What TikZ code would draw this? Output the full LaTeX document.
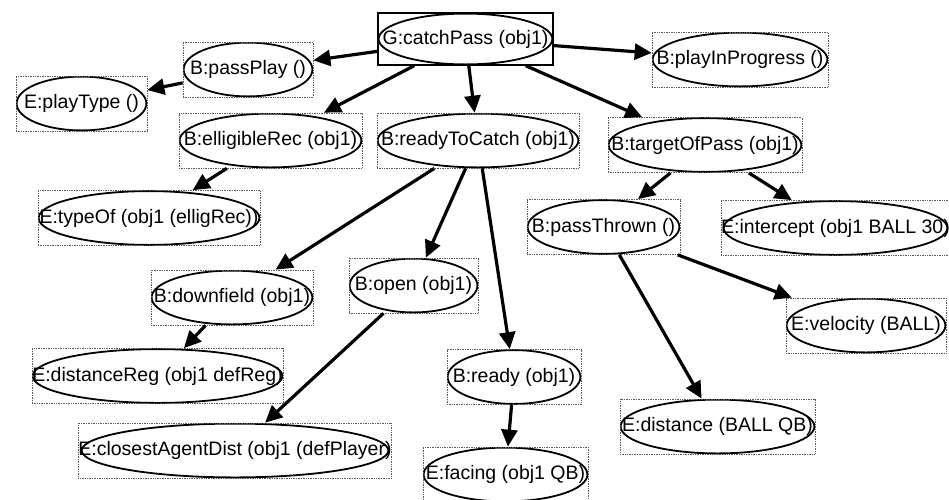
\documentclass[tikz,border=0pt]{standalone}
\usepackage{fontspec}
\newfontfamily\nodefont{Liberation Sans}
\usepackage{tikz}
\usetikzlibrary{arrows.meta}

\begin{document}
\begin{tikzpicture}[
		x=1pt,y=-1pt,
		node text/.style={font=\nodefont\fontsize{19.5}{22}\selectfont,inner sep=0pt,minimum height=55pt},
		behaviour/.style={node text,draw=black!65,densely dotted,line width=0.7pt,minimum width=#1,
			path picture={\draw[solid,black,line width=1.8pt] (path picture bounding box.center)
				ellipse [x radius=#1/2-0.6pt,y radius=27.5pt-0.6pt];}},
		goal/.style={node text,draw=black,line width=1.3pt,minimum width=#1,minimum height=52pt,
			path picture={\draw[black,line width=1.8pt] (path picture bounding box.center)
				ellipse [x radius=#1/2-0.6pt,y radius=26pt-0.6pt];}},
		rel/.style={-{Triangle[length=17pt,width=16pt]},line width=3.2pt,black}
	]
		\useasboundingbox (0,0) rectangle (949,499);

		% Goal at the root.
		\node[goal=175pt] (catchPass) at (465.5,39) {G:catchPass (obj1)};

		% First level.
		\node[behaviour=130pt] (passPlay) at (248,69.5) {B:passPlay ()};
		\node[behaviour=131pt] (playType) at (81.5,103.5) {E:playType ()};
		\node[behaviour=176pt] (playInProgress) at (740,59.5) {B:playInProgress ()};
		\node[behaviour=183pt] (elligibleRec) at (270.5,140.5) {B:elligibleRec (obj1)};
		\node[behaviour=202pt] (readyToCatch) at (478,140.5) {B:readyToCatch (obj1)};
		\node[behaviour=194pt] (targetOfPass) at (705,145) {B:targetOfPass (obj1)};

		% Lower levels.
		\node[behaviour=222pt] (typeOf) at (149,218) {E:typeOf (obj1 (elligRec))};
		\node[behaviour=153pt] (passThrown) at (603.5,227) {B:passThrown ()};
		\node[behaviour=225pt] (intercept) at (835.5,228) {E:intercept (obj1 BALL 30)};
		\node[behaviour=162pt] (downfield) at (232,297.5) {B:downfield (obj1)};
		\node[behaviour=129pt] (open) at (413.5,285.5) {B:open (obj1)};
		\node[behaviour=160pt] (velocity) at (866,325.5) {E:velocity (BALL)};
		\node[behaviour=251pt] (distanceReg) at (157.5,376) {E:distanceReg (obj1 defReg)};
		\node[behaviour=134pt] (ready) at (514,377) {B:ready (obj1)};
		\node[behaviour=195pt] (distance) at (717.5,426.5) {E:distance (BALL QB)};
		\node[behaviour=308pt] (closestAgentDist) at (235,450.5) {E:closestAgentDist (obj1 (defPlayer)};
		\node[behaviour=165pt] (facing) at (505.5,474.5) {E:facing (obj1 QB)};

		% Connectors.
		\draw[rel] (catchPass) -- (passPlay);
		\draw[rel] (catchPass) -- (playInProgress);
		\draw[rel] (catchPass) -- (elligibleRec);
		\draw[rel] (catchPass) -- (readyToCatch);
		\draw[rel] (catchPass) -- (targetOfPass);
		\draw[rel] (passPlay) -- (playType);
		\draw[rel] (elligibleRec) -- (typeOf);
		\draw[rel] (readyToCatch) -- (downfield);
		\draw[rel] (readyToCatch) -- (open);
		\draw[rel] (readyToCatch) -- (ready);
		\draw[rel] (targetOfPass) -- (passThrown);
		\draw[rel] (targetOfPass) -- (intercept);
		\draw[rel] (downfield) -- (distanceReg);
		\draw[rel] (open) -- (closestAgentDist);
		\draw[rel] (ready) -- (facing);
		\draw[rel] (passThrown) -- (velocity);
		\draw[rel] (passThrown) -- (distance);
	\end{tikzpicture}
\end{document}
